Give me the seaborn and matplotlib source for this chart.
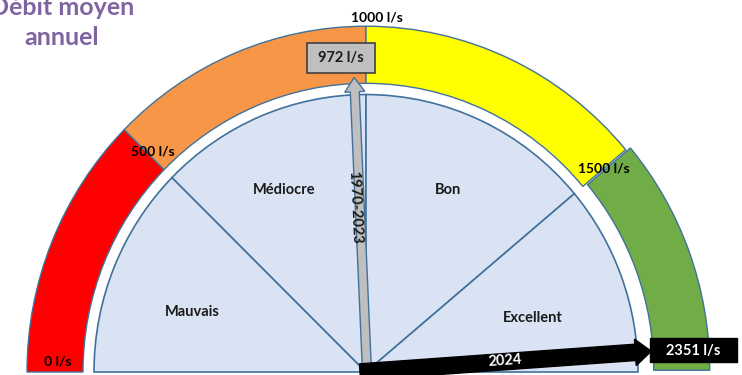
import numpy as np
import matplotlib
matplotlib.use("Agg")
import matplotlib.pyplot as plt
from matplotlib.patches import Wedge, FancyArrow, Rectangle
import seaborn as sns

# Gauge scale (l/s) and its coloured bands
scale_values = [0, 500, 1000, 1500, 2000]
scale_labels = ["0 l/s", "500 l/s", "1000 l/s", "1500 l/s"]
band_colors = ["#FF0000", "#F79646", "#FFFF00", "#70AD47"]

# Quality classes of the inner disc (boundaries in l/s)
class_names = ["Mauvais", "Médiocre", "Bon", "Excellent"]
class_bounds = [0, 500, 1000, 1500, 2000]

# Needles: mean flow over the reference period and for the last year
needle_labels = ["1970-2023", "2024"]
needle_values = [972, 2351]
needle_texts = ["972 l/s", "2351 l/s"]

title_lines = ["Débit moyen", "annuel"]

sns.set_theme(style="white")
plt.rcParams["font.family"] = ["Lato", "DejaVu Sans"]

# angular layout of the half gauge (degrees, 180 = left, 0 = right)
scale_angles = [180, 135.5, 90, 40, 0]
needle_cap = 1950          # needles beyond the scale stop just short of the end


def to_angle(v):
    v = min(v, needle_cap) if v > scale_values[-1] else v
    return float(np.interp(v, scale_values, scale_angles))


W, H = 742, 375
cx, cy = 366, 372          # gauge centre in pixels
k = 1.02                   # slight vertical stretch of the gauge

fig = plt.figure(figsize=(W / 100, H / 100), dpi=100)
ax = fig.add_axes([0, 0, 1, 1])
ax.set_xlim(-cx, W - cx)
ax.set_ylim(-(H - cy) / k, cy / k)
ax.axis("off")


def px(x, y):
    """pixel position -> data coordinates"""
    return x - cx, (cy - y) / k


edge = "#41719C"
palette = sns.color_palette(band_colors)

# outer coloured ring
r_out, r_in = 339, 283
for i, col in enumerate(palette):
    a1 = to_angle(scale_values[i + 1])
    a0 = to_angle(scale_values[i])
    centre = (0, 0)
    if i == len(palette) - 1:
        # last band is pulled slightly out of the ring
        mid = np.deg2rad((a0 + a1) / 2)
        centre = (5 * np.cos(mid), 5 * np.sin(mid))
    ax.add_patch(Wedge(centre, r_out, a1, a0, width=r_out - r_in,
                       facecolor=col, edgecolor=edge, lw=1.0, zorder=2))

# inner disc split into quality classes
r_disc = 272
for i in range(len(class_names)):
    a1 = to_angle(class_bounds[i + 1])
    a0 = to_angle(class_bounds[i])
    ax.add_patch(Wedge((0, 0), r_disc, a1, a0, facecolor="#DAE3F3",
                       edgecolor=edge, lw=1.2, zorder=3))

class_pos = [(192, 312), (284, 190), (448, 190), (533, 318)]
for name, (x, y) in zip(class_names, class_pos):
    ax.text(*px(x, y), name, ha="center", va="center", fontsize=10.5,
            fontweight="bold", color="#1a1a1a", zorder=4)

# scale labels
scale_pos = [(58, 362), (153, 152), (377, 17), (604, 169)]
for lab, (x, y) in zip(scale_labels, scale_pos):
    ax.text(*px(x, y), lab, ha="center", va="center", fontsize=10,
            fontweight="bold", color="black", zorder=6)

# reference-period needle (grey)
a = np.deg2rad(to_angle(needle_values[0]))
L = 289
ax.add_patch(FancyArrow(1, 0, L * np.cos(a), L * np.sin(a), width=9,
                        head_width=20, head_length=14, length_includes_head=True,
                        facecolor="#BFBFBF", edgecolor=edge, lw=1.0, zorder=5))
ax.text(*px(355, 207), needle_labels[0], rotation=np.rad2deg(a) - 180,
        rotation_mode="anchor", ha="center", va="center", fontsize=10.5,
        fontweight="bold", color="#1a1a1a", zorder=6)

# value box of the grey needle
bx0, by0 = px(307, 73)
ax.add_patch(Rectangle((bx0, by0), 68, 30 / k, facecolor="#BFBFBF",
                       edgecolor="#404040", lw=1.2, zorder=6))
ax.text(*px(341, 58), needle_texts[0], ha="center", va="center", fontsize=10.5,
        fontweight="bold", color="#1a1a1a", zorder=7)

# last-year needle (black)
a2 = np.deg2rad(to_angle(needle_values[1]))
L2 = 292
ax.add_patch(FancyArrow(-6, 0, L2 * np.cos(a2), L2 * np.sin(a2), width=16,
                        head_width=26, head_length=16, length_includes_head=True,
                        facecolor="black", edgecolor="black", lw=1.0, zorder=7))
ax.text(*px(505, 361), needle_labels[1], rotation=np.rad2deg(a2),
        rotation_mode="anchor", ha="center", va="center", fontsize=10.5,
        fontweight="bold", color="white", zorder=8)

bx0, by0 = px(650, 362)
ax.add_patch(Rectangle((bx0, by0), 87, 24 / k, facecolor="black",
                       edgecolor="black", lw=1, zorder=8))
ax.text(*px(693, 351), needle_texts[1], ha="center", va="center", fontsize=10.5,
        fontweight="bold", color="white", zorder=9)

# title, top left
for line, y in zip(title_lines, [15, 45]):
    ax.text(*px(62, y), line, ha="center", va="baseline", fontsize=18,
            fontweight="bold", color="#8064A2", zorder=9)

fig.savefig("out.png", dpi=100)
